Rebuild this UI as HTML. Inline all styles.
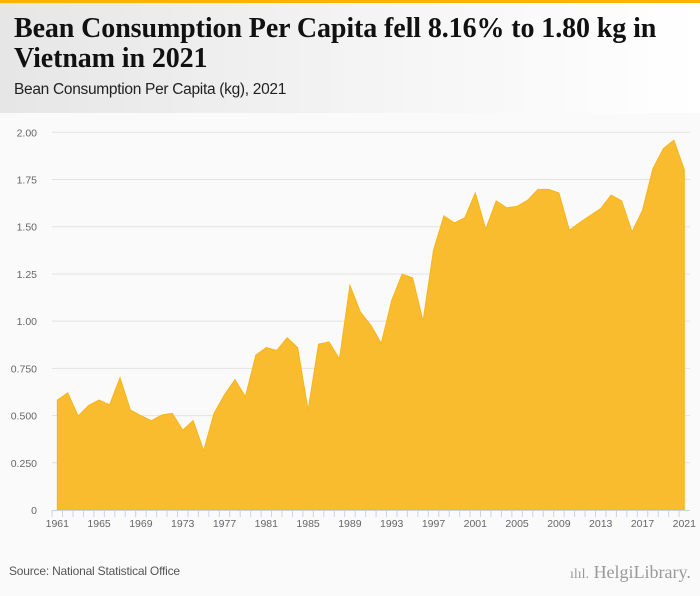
<!DOCTYPE html>
<html><head><meta charset="utf-8"><style>
body{margin:0;width:700px;height:596px;background:#fafafa;font-family:"Liberation Sans",sans-serif;overflow:hidden;position:relative}
#hdr{position:absolute;left:0;top:0;width:700px;height:113px;background:linear-gradient(90deg,#e6e6e6,#f6f6f6 60%,#fff)}
#bar{position:absolute;left:0;top:0;width:700px;height:3px;background:#f7b500}
#title{position:absolute;left:14px;top:14px;width:686px;font-family:"Liberation Serif",serif;font-weight:bold;font-size:28px;line-height:30px;color:#111;letter-spacing:-0.1px}
#sub{position:absolute;left:14px;top:81px;font-size:15.5px;color:#222;letter-spacing:-0.3px}
#src{position:absolute;left:9px;top:564px;font-size:12px;color:#555;letter-spacing:-0.2px}
#logo{position:absolute;left:570px;top:562px;font-family:"Liberation Serif",serif;font-size:18px;color:#999}
</style></head><body>
<div id="hdr"></div>
<div id="bar"></div>
<div id="title">Bean Consumption Per Capita fell 8.16% to 1.80 kg in Vietnam in 2021</div>
<div id="sub">Bean Consumption Per Capita (kg), 2021</div>
<svg id="chart" width="700" height="596" style="position:absolute;left:0;top:0"></svg>
<div id="src">Source: National Statistical Office</div>
<div id="logo"><span style="font-size:14px">ılıl.</span> Helgi<span style="font-weight:normal">Library.</span></div>
<script>
const years=[];for(let y=1961;y<=2021;y++)years.push(y);
const values=[0.582,0.62,0.497,0.554,0.582,0.556,0.70,0.529,0.50,0.473,0.503,0.512,0.423,0.473,0.314,0.512,0.61,0.69,0.60,0.82,0.86,0.845,0.912,0.86,0.529,0.878,0.89,0.80,1.19,1.049,0.979,0.882,1.11,1.249,1.229,1.0,1.376,1.557,1.52,1.548,1.679,1.487,1.637,1.6,1.608,1.64,1.698,1.698,1.679,1.481,1.522,1.559,1.596,1.667,1.637,1.473,1.587,1.808,1.914,1.958,1.802];
const yTicks=[0,0.25,0.5,0.75,1,1.25,1.5,1.75,2];
const yTickLabels=["0","0.250","0.500","0.750","1.00","1.25","1.50","1.75","2.00"];
const xTickYears=[1961,1965,1969,1973,1977,1981,1985,1989,1993,1997,2001,2005,2009,2013,2017,2021];
const svg=document.getElementById('chart');const NS='http://www.w3.org/2000/svg';
const x=y=>57.3+(y-1961)*(684.3-57.3)/60;
const yS=v=>510-v*(510-132.3)/2;
function mk(t,a){const e=document.createElementNS(NS,t);for(const k in a)e.setAttribute(k,a[k]);svg.appendChild(e);return e;}
yTicks.forEach((v,i)=>{
 if(v>0){const g=mk('line',{x1:52,x2:690,y1:yS(v),y2:yS(v),stroke:'#e2e2e2','stroke-width':1});
 
 }
 const t=mk('text',{x:37,y:yS(v)+4,'text-anchor':'end','font-size':10.5,fill:'#666','font-family':'Liberation Sans, sans-serif'});
 t.textContent=yTickLabels[i];
 
 
});
let d='M'+x(years[0])+','+yS(0);
values.forEach((v,i)=>{d+=' L'+x(years[i])+','+yS(v);});
d+=' L'+x(years[years.length-1])+','+yS(0)+' Z';
const area=mk('path',{d:d,fill:'#f9bc2f',stroke:'#f7b51e','stroke-width':1});


const ax=mk('line',{x1:52,x2:690,y1:510.5,y2:510.5,stroke:'#c8d3e6','stroke-width':1});


years.forEach(y=>{const tk=mk('line',{x1:x(y)-5.2,x2:x(y)-5.2,y1:510,y2:517,stroke:'#c8d3e6','stroke-width':1});
 
 });
xTickYears.forEach(y=>{const t=mk('text',{x:x(y),y:527,'text-anchor':'middle','font-size':10.5,fill:'#666','font-family':'Liberation Sans, sans-serif'});
 t.textContent=y;
 
 });
</script>
</body></html>
